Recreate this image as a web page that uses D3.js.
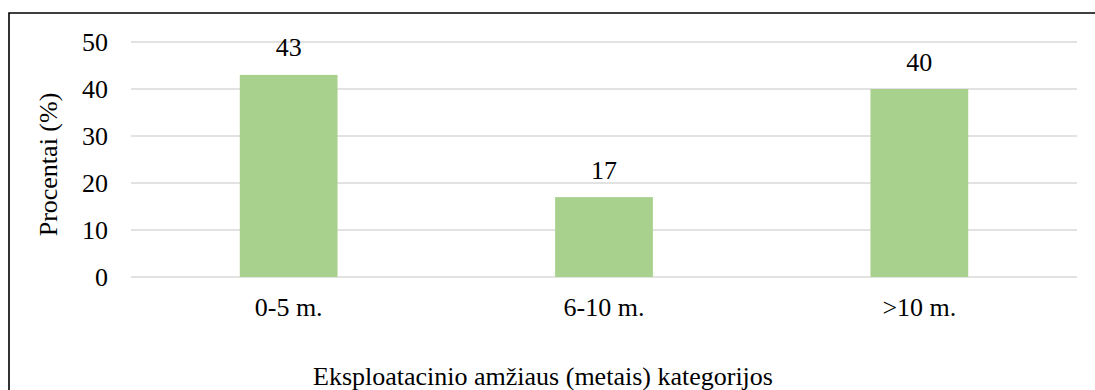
<!DOCTYPE html>
<html>
<head>
<meta charset="utf-8">
<script src="https://cdn.jsdelivr.net/npm/d3@7"></script>
<style>
  html, body { margin: 0; padding: 0; background: #fff; }
  svg { display: block; }
  svg text { font-family: "Liberation Serif", "Times New Roman", serif; fill: #000; }
</style>
</head>
<body>
<svg id="chart" width="1095" height="390"></svg>
<script>
// Age categories and the share of each (%)
const categories = ["0-5 m.", "6-10 m.", ">10 m."];
const values = [43, 17, 40];
const yTicks = [0, 10, 20, 30, 40, 50];
const yTitle = "Procentai (%)";
const xTitle = "Eksploatacinio amžiaus (metais) kategorijos";

const W = 1095, H = 390;
const FONT = 26;
const margin = { left: 131, right: 18, top: 42, bottom: 113 };
const svg = d3.select("#chart");

// Outer frame of the chart area
svg.append("path")
  .attr("d", `M9,${H} L9,13 L${W},13`)
  .attr("fill", "none")
  .attr("stroke", "#000")
  .attr("stroke-width", 1.6);

const x = d3.scaleBand()
  .domain(categories)
  .range([margin.left, W - margin.right])
  .paddingInner(0.69)
  .paddingOuter(0.345);

const y = d3.scaleLinear()
  .domain([0, 50])
  .range([H - margin.bottom, margin.top]);

// Horizontal gridlines
svg.append("g")
  .selectAll("line")
  .data(yTicks)
  .join("line")
  .attr("x1", margin.left)
  .attr("x2", W - margin.right)
  .attr("y1", d => y(d))
  .attr("y2", d => y(d))
  .attr("stroke", "#d9d9d9")
  .attr("stroke-width", 1.5);

// Y axis labels
const yAxis = d3.axisLeft(y).tickValues(yTicks).tickSize(0).tickPadding(0);
svg.append("g")
  .attr("transform", `translate(108,0)`)
  .call(yAxis)
  .call(g => g.select(".domain").remove())
  .call(g => g.selectAll("text")
    .style("font-size", FONT + "px")
    .style("font-family", "'Liberation Serif', serif")
    .attr("fill", "#000"));

// Bars
svg.append("g")
  .selectAll("rect")
  .data(values)
  .join("rect")
  .attr("x", (d, i) => x(categories[i]))
  .attr("width", x.bandwidth())
  .attr("y", d => y(d))
  .attr("height", d => y(0) - y(d))
  .attr("fill", "#a9d18e");

// Value labels
svg.append("g")
  .selectAll("text")
  .data(values)
  .join("text")
  .attr("x", (d, i) => x(categories[i]) + x.bandwidth() / 2)
  .attr("y", d => y(d) - 18.5)
  .attr("text-anchor", "middle")
  .style("font-size", FONT + "px")
  .text(d => d);

// X axis category labels
const xAxis = d3.axisBottom(x).tickSize(0).tickPadding(0);
svg.append("g")
  .attr("transform", `translate(0,${y(0)})`)
  .call(xAxis)
  .call(g => g.select(".domain").remove())
  .call(g => g.selectAll("text")
    .attr("dy", null)
    .attr("y", 39)
    .style("font-size", FONT + "px")
    .style("font-family", "'Liberation Serif', serif")
    .attr("fill", "#000"));

// Axis titles
svg.append("text")
  .attr("transform", `translate(57,${(y(0) + y(50)) / 2 + 5}) rotate(-90)`)
  .attr("text-anchor", "middle")
  .style("font-size", FONT + "px")
  .text(yTitle);

svg.append("text")
  .attr("x", 543)
  .attr("y", 385)
  .attr("text-anchor", "middle")
  .style("font-size", FONT + "px")
  .text(xTitle);
</script>
</body>
</html>
